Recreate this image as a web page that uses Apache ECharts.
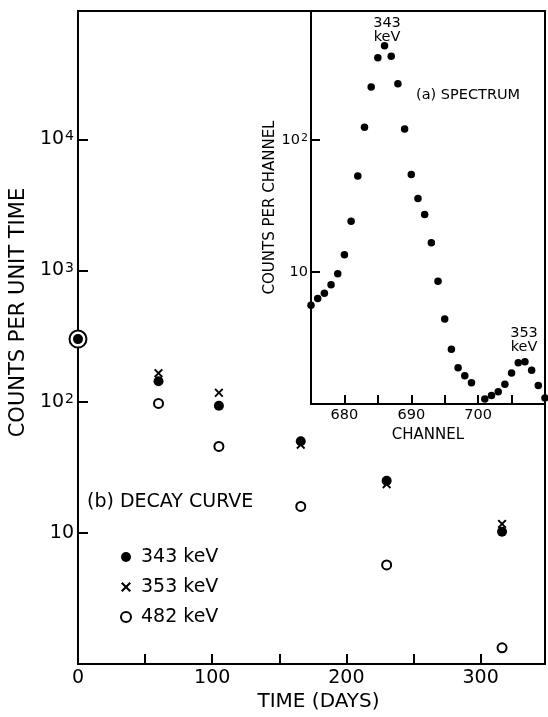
<!DOCTYPE html>
<html><head><meta charset="utf-8">
<script src="https://cdn.jsdelivr.net/npm/echarts@6/dist/echarts.min.js"></script>
<style>html,body{margin:0;padding:0;background:#fff}#c{width:548px;height:717px}</style>
</head><body><div id="c"></div>
<script>
// ---- Decay curve data (b) ----
const days = [0, 60, 105, 166, 230, 316];
const counts343 = [300, 143, 93, 50, 25, 10.2];
const counts353 = [null, 165, 117, 47, 23.5, 11.7];
const counts482 = [300, 97, 45.6, 15.9, 5.7, 1.33];

// ---- Spectrum data (a) ----
const channels = [675,676,677,678,679,680,681,682,683,684,685,686,687,688,689,690,691,692,693,694,695,696,697,698,699,700,701,702,703,704,705,706,707,708,709,710];
const spectrum = [5.6,6.3,6.9,8.0,9.7,13.5,24.3,53.5,125,252,421,518,431,267,121,54.8,36,27.3,16.7,8.5,4.4,2.6,1.88,1.64,1.45,null,1.09,1.16,1.24,1.41,1.72,2.05,2.09,1.80,1.38,1.11];

// ---- Tick labels ----
const mainXLabels = [0, 100, 200, 300];
const insetXLabels = [680, 690, 700];
const mainYLabelExp = [1, 2, 3, 4];   // 10, 10^2, 10^3, 10^4
const insetYLabelExp = [1, 2];        // 10, 10^2

const FONT = 'DejaVu Sans';
const X_PATH = 'path://M0,1.5L1.5,0L5,3.5L8.5,0L10,1.5L6.5,5L10,8.5L8.5,10L5,6.5L1.5,10L0,8.5L3.5,5Z';

function expLabel(exps) {
  return function (v) {
    const e = Math.round(Math.log10(v));
    if (exps.indexOf(e) < 0) return '';
    if (e === 1) return '{b|10}';
    return '{b|10}{s|' + e + '}';
  };
}

const chart = echarts.init(document.getElementById('c'), null, {renderer: 'canvas'});
const zip = (xs, ys) => xs.map((x, i) => [x, ys[i]]);

chart.setOption({
  animation: false,
  backgroundColor: '#fff',
  textStyle: {fontFamily: FONT, color: '#000'},
  grid: [
    {left: 76, top: 11, width: 471, height: 661, show: true, borderColor: '#000', borderWidth: 2, backgroundColor: '#fff'},
    {left: 311, top: 11, width: 236, height: 393, show: true, borderColor: '#000', borderWidth: 2, backgroundColor: '#fff'}
  ],
  xAxis: [
    {
      type: 'value', gridIndex: 0, min: 0, max: 348, interval: 50,
      splitLine: {show: false}, axisLine: {show: false},
      axisTick: {show: true, inside: true, length: 10, lineStyle: {color: '#000', width: 2}},
      axisLabel: {margin: 4, fontSize: 19, fontFamily: FONT, color: '#000',
        formatter: v => mainXLabels.indexOf(v) >= 0 ? String(v) : ''},
      name: 'TIME (DAYS)', nameLocation: 'middle', nameGap: 26,
      nameTextStyle: {fontSize: 20, fontFamily: FONT, color: '#000', padding: [0, 0, 0, 14]}
    },
    {
      type: 'value', gridIndex: 1, min: 675, max: 710, interval: 5,
      splitLine: {show: false}, axisLine: {show: false},
      axisTick: {show: true, inside: true, length: 9, lineStyle: {color: '#000', width: 2}},
      axisLabel: {margin: 4, fontSize: 14.5, fontFamily: FONT, color: '#000',
        formatter: v => insetXLabels.indexOf(v) >= 0 ? String(v) : ''},
      name: 'CHANNEL', nameLocation: 'middle', nameGap: 20,
      nameTextStyle: {fontSize: 15, fontFamily: FONT, color: '#000'}
    }
  ],
  yAxis: [
    {
      type: 'log', logBase: 10, gridIndex: 0, min: 1, max: 95000,
      splitLine: {show: false}, axisLine: {show: false}, minorTick: {show: false},
      axisTick: {show: true, inside: true, length: 10, lineStyle: {color: '#000', width: 2}},
      axisLabel: {margin: 4, color: '#000', formatter: expLabel(mainYLabelExp),
        rich: {b: {fontSize: 19, fontFamily: FONT, color: '#000'},
               s: {fontSize: 14, fontFamily: FONT, color: '#000', verticalAlign: 'top', padding: [0, 0, 0, 1]}}},
      name: 'COUNTS PER UNIT TIME', nameLocation: 'middle', nameGap: 42,
      nameTextStyle: {fontSize: 21, fontFamily: FONT, color: '#000', padding: [0, 0, 0, 50]}
    },
    {
      type: 'log', logBase: 10, gridIndex: 1, min: 1, max: 950,
      splitLine: {show: false}, axisLine: {show: false}, minorTick: {show: false},
      axisTick: {show: true, inside: true, length: 9, lineStyle: {color: '#000', width: 2}},
      axisLabel: {margin: 3, color: '#000', formatter: expLabel(insetYLabelExp),
        rich: {b: {fontSize: 14.5, fontFamily: FONT, color: '#000'},
               s: {fontSize: 11, fontFamily: FONT, color: '#000', verticalAlign: 'top', padding: [0, 0, 0, 1]}}},
      name: 'COUNTS PER CHANNEL', nameLocation: 'middle', nameGap: 31,
      nameTextStyle: {fontSize: 15, fontFamily: FONT, color: '#000'}
    }
  ],
  legend: {
    orient: 'vertical', left: 120, top: 547, padding: 0, itemGap: 10, itemWidth: 10, itemHeight: 10,
    data: ['343 keV', '353 keV', '482 keV'],
    textStyle: {fontSize: 19, fontFamily: FONT, color: '#000', lineHeight: 20, padding: [0, 0, 0, 5]}
  },
  graphic: [
    {type: 'text', left: 87, top: 493, style: {text: '(b) DECAY CURVE', fontSize: 19, fontFamily: FONT, fill: '#000'}},
    {type: 'text', left: 416, top: 88, style: {text: '(a) SPECTRUM', fontSize: 14.5, fontFamily: FONT, fill: '#000'}, z: 10},
    {type: 'text', x: 387, y: 16, style: {text: '343\nkeV', fontSize: 14.5, lineHeight: 14, align: 'center', fontFamily: FONT, fill: '#000'}, z: 10},
    {type: 'text', x: 524, y: 326, style: {text: '353\nkeV', fontSize: 14.5, lineHeight: 14, align: 'center', fontFamily: FONT, fill: '#000'}, z: 10}
  ],
  series: [
    {
      name: '482 keV', type: 'scatter', xAxisIndex: 0, yAxisIndex: 0,
      symbol: 'emptyCircle',
      data: zip(days, counts482).map((d, i) => i === 0 ? {value: d, symbolSize: 17} : {value: d, symbolSize: 9}),
      itemStyle: {color: '#000', borderColor: '#000', borderWidth: 2, opacity: 1}
    },
    {
      name: '353 keV', type: 'scatter', xAxisIndex: 0, yAxisIndex: 0,
      symbol: X_PATH, symbolSize: 9,
      data: zip(days, counts353),
      itemStyle: {color: '#000', opacity: 1}
    },
    {
      name: '343 keV', type: 'scatter', xAxisIndex: 0, yAxisIndex: 0,
      symbol: 'circle', symbolSize: 10,
      data: zip(days, counts343),
      itemStyle: {color: '#000', opacity: 1}
    },
    {
      name: 'spectrum', type: 'scatter', xAxisIndex: 1, yAxisIndex: 1,
      symbol: 'circle', symbolSize: 7.5,
      data: zip(channels, spectrum),
      itemStyle: {color: '#000', opacity: 1}
    }
  ]
});
</script>
</body></html>
